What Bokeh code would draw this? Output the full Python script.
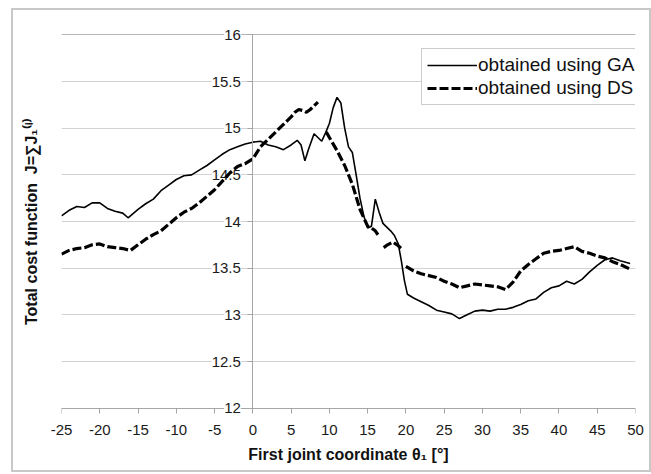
import math
from bokeh.plotting import figure
from bokeh.models import (Range1d, FixedTicker, LinearAxis, Legend, LegendItem,
                          NumeralTickFormatter, Label, Grid)
from bokeh.embed import file_html
from bokeh.resources import INLINE

nan = float("nan")

# ---- data ----
x_ticks = [-25, -20, -15, -10, -5, 0, 5, 10, 15, 20, 25, 30, 35, 40, 45, 50]
y_ticks = [12, 12.5, 13, 13.5, 14, 14.5, 15, 15.5, 16]

ga_theta = [-25, -24, -23, -22, -21, -20, -19, -18, -17, -16.3, -15, -14, -13, -12, -11,
            -10, -9, -8, -7, -6, -5, -4, -3, -2, -1, 0, 1, 2, 3, 4, 5, 5.8, 6.3, 6.8,
            7.3, 8, 8.5, 9, 9.5, 10, 10.5, 11, 11.5, 12, 12.5, 13, 13.5, 14, 14.5, 15,
            15.5, 16, 16.5, 17, 18, 18.5, 19, 19.4, 19.8, 20.2, 21, 22, 23, 24, 25, 26,
            27, 28, 29, 30, 31, 32, 33, 34, 35, 36, 37, 38, 39, 40, 41, 42, 43, 44, 45,
            46, 47, 48, 49.3]
ga_cost = [14.06, 14.12, 14.16, 14.15, 14.2, 14.2, 14.14, 14.11, 14.09, 14.04, 14.13,
           14.19, 14.24, 14.33, 14.39, 14.45, 14.49, 14.5, 14.55, 14.6, 14.66, 14.72,
           14.77, 14.8, 14.83, 14.85, 14.86, 14.82, 14.8, 14.77, 14.82, 14.87, 14.82,
           14.65, 14.78, 14.94, 14.9, 14.86, 14.95, 15.05, 15.22, 15.33, 15.27, 15.0,
           14.8, 14.74, 14.5, 14.25, 14.06, 13.93, 13.95, 14.24, 14.1, 13.98, 13.9,
           13.85, 13.76, 13.58, 13.37, 13.22, 13.18, 13.14, 13.1, 13.05, 13.03, 13.01,
           12.96, 13.0, 13.04, 13.05, 13.04, 13.06, 13.06, 13.08, 13.11, 13.15, 13.17,
           13.24, 13.29, 13.31, 13.36, 13.33, 13.38, 13.46, 13.53, 13.59, 13.61, 13.58,
           13.55]

ds_theta = [-25, -24, -23, -22, -21, -20, -19, -18, -17, -16, -15, -14, -13, -12, -11,
            -10, -9, -8, -7, -6, -5, -4, -3, -2, -1, 0, 1, 2, 3, 4, 5, 5.5, 6, 6.5, 7,
            7.5, 8, 8.5, nan, 9.6, 10, 11, 12, 12.5, 13, 14, 15, 15.5, 16, 16.5, nan,
            17.1, 17.6, 18.3, 19, 19.4, nan, 20, 21, 22, 23, 24, 25, 26, 27, 28, 29, 30,
            31, 32, 33, 34, 35, 36, 37, 38, 39, 40, 41, 42, 43, 44, 45, 46, 47, 48, 49.3]
ds_cost = [13.65, 13.69, 13.71, 13.72, 13.75, 13.76, 13.73, 13.72, 13.71, 13.69, 13.75,
           13.81, 13.86, 13.9, 13.97, 14.04, 14.1, 14.14, 14.2, 14.27, 14.34, 14.43,
           14.52, 14.59, 14.62, 14.67, 14.8, 14.88, 14.96, 15.04, 15.12, 15.17, 15.2,
           15.19, 15.17, 15.2, 15.24, 15.28, nan, 14.96, 14.9, 14.76, 14.6, 14.5, 14.4,
           14.13, 13.95, 13.93, 13.9, 13.84, nan, 13.72, 13.75, 13.78, 13.74, 13.71, nan,
           13.52, 13.47, 13.44, 13.42, 13.4, 13.36, 13.33, 13.29, 13.31, 13.33, 13.32,
           13.31, 13.3, 13.27, 13.35, 13.47, 13.54, 13.6, 13.66, 13.68, 13.69, 13.71,
           13.73, 13.68, 13.66, 13.63, 13.61, 13.57, 13.54, 13.49]

series_labels = ["obtained using GA", "obtained using DS"]
x_title = "First joint coordinate \u03b8\u2081 [\u00b0]"
y_title = "Total cost function \u00a0J=\u2211J\u2081\u207d\u2071\u207e"

FONT = "Liberation Sans"
GRID = "#d2d2d2"
FRAME = "#b4b4b4"
AXIS = "#a6a6a6"
TXT = "#1a1a1a"
YPAD = 0.1   # room above 16 / below 12 so the edge tick labels are not clipped

p = figure(width=636, height=460, output_backend="svg", toolbar_location=None,
           x_range=Range1d(x_ticks[0], x_ticks[-1]),
           y_range=Range1d(y_ticks[0] - YPAD, y_ticks[-1] + YPAD),
           min_border_left=48, min_border_right=14, min_border_top=15,
           min_border_bottom=53)
p.styles = {"margin-left": "13px", "margin-top": "10px",
            "outline": "2px solid #c8c8c8"}
p.background_fill_color = "white"
p.border_fill_color = "white"
p.outline_line_color = None

# grids
p.xgrid.visible = False
p.ygrid.ticker = FixedTicker(ticks=y_ticks)
p.ygrid.grid_line_color = GRID
p.ygrid.grid_line_width = 1
top_line = Grid(dimension=1, ticker=FixedTicker(ticks=[y_ticks[-1]]),
                grid_line_color=FRAME, grid_line_width=1)
side_lines = Grid(dimension=0, ticker=FixedTicker(ticks=[x_ticks[0], x_ticks[-1]]),
                  bounds=(y_ticks[0], y_ticks[-1]),
                  grid_line_color=FRAME, grid_line_width=2)
p.add_layout(top_line, "center")
p.add_layout(side_lines, "center")

# bottom axis: only labels and title
xa = p.xaxis[0]
xa.ticker = FixedTicker(ticks=x_ticks)
xa.formatter = NumeralTickFormatter(format="0")
xa.axis_line_color = None
xa.major_tick_line_color = None
xa.major_tick_out = 0
xa.major_tick_in = 0
xa.minor_tick_line_color = None
xa.major_label_text_font = FONT
xa.major_label_text_font_size = "15px"
xa.major_label_text_color = TXT
xa.major_label_standoff = 7
xa.axis_label = x_title
xa.axis_label_text_font = FONT
xa.axis_label_text_font_style = "bold"
xa.axis_label_text_font_size = "16px"
xa.axis_label_text_color = "#111111"
xa.axis_label_standoff = 8

# x axis line and ticks at J = 12
bx = LinearAxis(fixed_location=y_ticks[0], ticker=FixedTicker(ticks=x_ticks))
bx.axis_line_color = AXIS
bx.major_tick_line_color = AXIS
bx.major_tick_out = 5
bx.major_tick_in = 0
bx.minor_tick_line_color = None
bx.major_label_text_color = None
p.add_layout(bx, "below")

# left axis used only for the title
ya = p.yaxis[0]
ya.ticker = FixedTicker(ticks=[])
ya.axis_line_color = None
ya.major_tick_line_color = None
ya.minor_tick_line_color = None
ya.axis_label = y_title
ya.axis_label_text_font = FONT
ya.axis_label_text_font_style = "bold"
ya.axis_label_text_font_size = "16px"
ya.axis_label_text_color = "#111111"
ya.axis_label_standoff = 22

# y axis crossing at theta = 0 (line and ticks)
ty = LinearAxis(fixed_location=x_ticks[5], ticker=FixedTicker(ticks=y_ticks),
                bounds=(y_ticks[0], y_ticks[-1]))
ty.axis_line_color = AXIS
ty.major_tick_line_color = AXIS
ty.major_tick_out = 5
ty.major_tick_in = 0
ty.minor_tick_line_color = None
ty.major_label_text_color = None
p.add_layout(ty, "left")

# tick labels of the crossing axis
for v in y_ticks:
    edge = v in (y_ticks[0], y_ticks[-1])
    lab = Label(x=x_ticks[5], y=v, text=f"{v:g}", x_offset=-12,
                text_align="right", text_baseline="middle",
                text_font=FONT, text_font_size="15px", text_color=TXT,
                background_fill_color="white",
                level="annotation" if edge else "underlay")
    p.add_layout(lab, "center")

# curves
r_ga = p.line(ga_theta, ga_cost, line_color="black", line_width=1.6)
r_ds = p.line(ds_theta, ds_cost, line_color="black", line_width=3.2, line_dash="9 3")

legend = Legend(items=[LegendItem(label=series_labels[0], renderers=[r_ga]),
                       LegendItem(label=series_labels[1], renderers=[r_ds])],
                location=(360, 312))
legend.label_text_font = FONT
legend.label_text_font_size = "19px"
legend.label_text_color = "#111111"
legend.glyph_width = 50
legend.glyph_height = 20
legend.label_height = 20
legend.label_standoff = 1
legend.padding = 5
legend.spacing = 1
legend.margin = 0
legend.border_line_color = "#9a9a9a"
legend.border_line_width = 1
legend.background_fill_color = "white"
legend.background_fill_alpha = 1
p.add_layout(legend, "center")

open("out.html", "w").write(file_html(p, INLINE))
